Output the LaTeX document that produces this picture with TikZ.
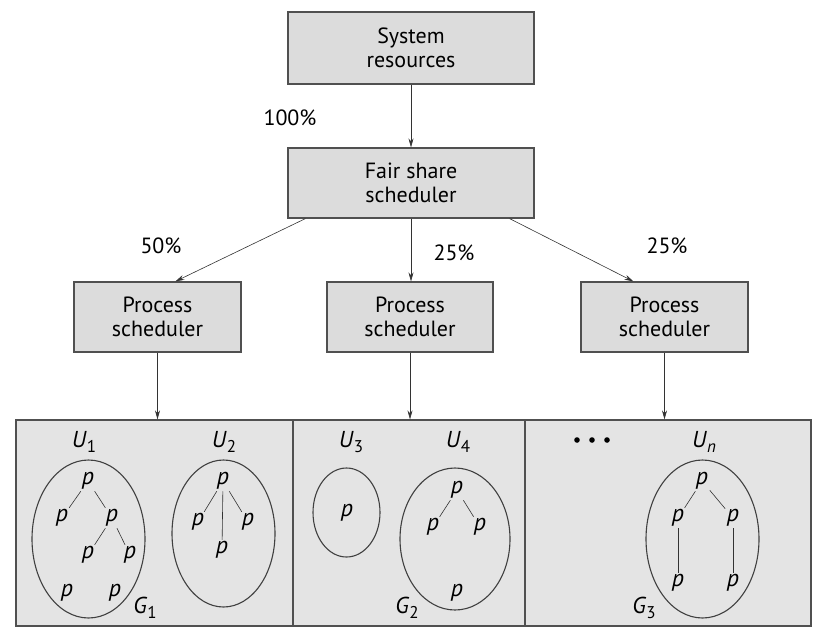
\documentclass[tikz,border=0pt]{standalone}
\usepackage{fontspec}
\setmainfont{PT Sans}
\usetikzlibrary{arrows.meta,shapes.geometric}
\definecolor{boxfill}{HTML}{DCDCDC}
\definecolor{panelfill}{HTML}{E4E4E4}
\definecolor{edge}{HTML}{505050}
\begin{document}
\begin{tikzpicture}[x=1pt,y=-1pt,
  box/.style={draw=edge,line width=1.2pt,fill=boxfill,align=center,inner sep=0pt,
    font=\fontsize{22}{24}\selectfont},
  panel/.style={draw=edge,line width=1.2pt,fill=panelfill,inner sep=0pt},
  arr/.style={draw=black!80,line width=0.6pt,-{Stealth[length=9pt,width=5pt]}},
  lab/.style={font=\fontsize{22}{24}\selectfont,inner sep=0pt},
  pp/.style={font=\fontsize{24}{26}\itshape,inner sep=1.5pt},
  ul/.style={font=\fontsize{23}{25}\selectfont,inner sep=0pt},
  grp/.style={draw=black!75,line width=1.1pt,ellipse,inner sep=0pt},
  tree/.style={draw=black!80,line width=0.6pt}]
\useasboundingbox (0,0) rectangle (814,630);

% boxes
\node[box,minimum width=246pt,minimum height=72pt] (sys) at (411,48) {System\\resources};
\node[box,minimum width=246pt,minimum height=70pt] (fair) at (411,183) {Fair share\\scheduler};
\node[box,minimum width=167pt,minimum height=70pt] (ps1) at (157.5,317) {Process\\scheduler};
\node[box,minimum width=166pt,minimum height=70pt] (ps2) at (410,317) {Process\\scheduler};
\node[box,minimum width=167pt,minimum height=70pt] (ps3) at (664.5,317) {Process\\scheduler};

% panels
\node[panel,minimum width=277pt,minimum height=206pt] (g1box) at (154.5,523) {};
\node[panel,minimum width=232pt,minimum height=206pt] (g2box) at (409,523) {};
\node[panel,minimum width=286pt,minimum height=206pt] (g3box) at (668,523) {};

% arrows
\draw[arr] (sys.south) -- (fair.north);
\draw[arr] ([xshift=18pt]fair.south west) -- ([xshift=102pt]ps1.north west);
\draw[arr] (fair.south) -- (fair.south |- ps2.north);
\draw[arr] ([xshift=-25pt]fair.south east) -- ([xshift=53pt]ps3.north west);
\draw[arr] (ps1.south) -- (ps1.south |- g1box.north);
\draw[arr] (ps2.south) -- (ps2.south |- g2box.north);
\draw[arr] (ps3.south) -- (ps3.south |- g3box.north);

% percentages
\node[lab] (l100) at (290,118) {100\%};
\node[lab] (l50) at (161,246) {50\%};
\node[lab] (l25a) at (454,253) {25\%};
\node[lab] (l25b) at (667,246) {25\%};

% group ellipses
\node[grp,minimum width=113pt,minimum height=158pt] (e1) at (88.5,539) {};
\node[grp,minimum width=103pt,minimum height=147pt] (e2) at (223.5,533.5) {};
\node[grp,minimum width=67pt,minimum height=89pt] (e3) at (346.5,512.5) {};
\node[grp,minimum width=110pt,minimum height=142pt] (e4) at (455,539) {};
\node[grp,minimum width=113pt,minimum height=158pt] (e5) at (702.5,539) {};

% user labels
\node[ul] (u1) at (84,442) {\textit{U}\raisebox{-0.45ex}{\fontsize{17}{19}\selectfont 1}};
\node[ul] (u2) at (224,442) {\textit{U}\raisebox{-0.45ex}{\fontsize{17}{19}\selectfont 2}};
\node[ul] (u3) at (351,442) {\textit{U}\raisebox{-0.45ex}{\fontsize{17}{19}\selectfont 3}};
\node[ul] (u4) at (458,442) {\textit{U}\raisebox{-0.45ex}{\fontsize{17}{19}\selectfont 4}};
\node[ul] (un) at (704,442) {\textit{U}\raisebox{-0.45ex}{\fontsize{17}{19}\selectfont\itshape n}};
\fill (577,440) circle (2.8pt) (592,440) circle (2.8pt) (607,440) circle (2.8pt);

% group labels
\node[ul] (gl1) at (145,608) {\textit{G}\raisebox{-0.45ex}{\fontsize{17}{19}\selectfont 1}};
\node[ul] (gl2) at (407,608) {\textit{G}\raisebox{-0.45ex}{\fontsize{17}{19}\selectfont 2}};
\node[ul] (gl3) at (644,608) {\textit{G}\raisebox{-0.45ex}{\fontsize{17}{19}\selectfont 3}};

% U1 tree
\node[pp] (a0) at (88,481) {p};
\node[pp] (a1) at (62,518) {p};
\node[pp] (a2) at (112,518) {p};
\node[pp] (a3) at (88,555) {p};
\node[pp] (a4) at (130,555) {p};
\node[pp] (a5) at (67,593) {p};
\node[pp] (a6) at (115,593) {p};
\draw[tree] (a0) -- (a1);
\draw[tree] (a0) -- (a2);
\draw[tree] (a2) -- (a3);
\draw[tree] (a2) -- (a4);

% U2 tree
\node[pp] (b0) at (223,481) {p};
\node[pp] (b1) at (198,522) {p};
\node[pp] (b2) at (248,522) {p};
\node[pp] (b3) at (222,550) {p};
\draw[tree] (b0) -- (b1);
\draw[tree] (b0) -- (b2);
\draw[tree] (b0) -- (b3);

% U3
\node[pp] (c0) at (347,513) {p};

% U4 tree
\node[pp] (d0) at (457,490) {p};
\node[pp] (d1) at (433,527) {p};
\node[pp] (d2) at (480,527) {p};
\node[pp] (d3) at (457,593) {p};
\draw[tree] (d0) -- (d1);
\draw[tree] (d0) -- (d2);

% Un tree
\node[pp] (f0) at (702,481) {p};
\node[pp] (f1) at (678,518) {p};
\node[pp] (f2) at (733,518) {p};
\node[pp] (f3) at (678,583) {p};
\node[pp] (f4) at (733,583) {p};
\draw[tree] (f0) -- (f1);
\draw[tree] (f0) -- (f2);
\draw[tree] (f1) -- (f3);
\draw[tree] (f2) -- (f4);
\end{tikzpicture}
\end{document}
